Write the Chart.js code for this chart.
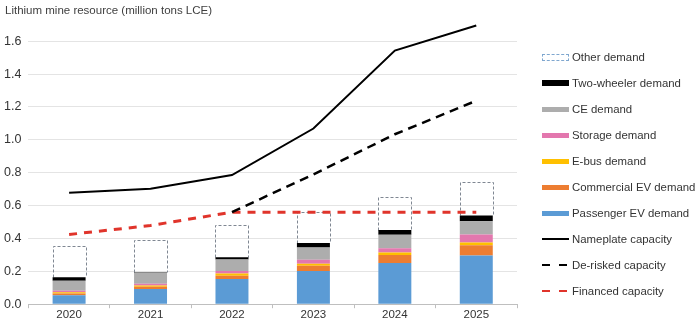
<!DOCTYPE html>
<html>
<head>
<meta charset="utf-8">
<script src="https://cdn.jsdelivr.net/npm/chart.js@4"></script>
<style>
  body { margin: 0; background: #fff; }
  #wrap { position: relative; width: 700px; height: 325px; font-family: "Liberation Sans", Arial, sans-serif; }
  #titulo { position: absolute; left: 5px; top: 4px; font-size: 11.5px; color: #404040; white-space: nowrap; }
  #leyenda { position: absolute; left: 542px; top: 0; font-size: 11.4px; color: #333; }
  .item { position: absolute; left: 0; height: 14px; white-space: nowrap; display: flex; align-items: center; }
  .sw { width: 27px; margin-right: 3px; box-sizing: border-box; }
</style>
</head>
<body>
<div id="wrap">
  <canvas id="grafico" width="700" height="325"></canvas>
  <div id="titulo">Lithium mine resource (million tons LCE)</div>
  <div id="leyenda"></div>
</div>
<script>
const anios = ["2020", "2021", "2022", "2023", "2024", "2025"];

const pasajeros = [0.055, 0.092, 0.153, 0.202, 0.250, 0.296];
const comercial = [0.010, 0.014, 0.020, 0.032, 0.050, 0.062];
const ebus = [0.007, 0.008, 0.014, 0.012, 0.014, 0.017];
const almacenamiento = [0.010, 0.010, 0.015, 0.024, 0.026, 0.049];
const ce = [0.060, 0.068, 0.070, 0.075, 0.082, 0.081];
const dosRuedas = [0.022, 0.003, 0.014, 0.027, 0.030, 0.035];
const otros = [0.193, 0.193, 0.194, 0.188, 0.200, 0.203];

const nominal = [0.678, 0.702, 0.786, 1.069, 1.543, 1.696];
const sinRiesgo = [null, null, 0.560, 0.790, 1.034, 1.238];
const financiada = [0.424, 0.479, 0.560, 0.560, 0.560, 0.560];

const yTicks = [0, 0.2, 0.4, 0.6, 0.8, 1.0, 1.2, 1.4, 1.6];

const barras = [
  { label: "Passenger EV demand", data: pasajeros, color: "#5B9BD5" },
  { label: "Commercial EV demand", data: comercial, color: "#ED7D31" },
  { label: "E-bus demand", data: ebus, color: "#FFC000" },
  { label: "Storage demand", data: almacenamiento, color: "#E377AE" },
  { label: "CE demand", data: ce, color: "#ADADAD" },
  { label: "Two-wheeler demand", data: dosRuedas, color: "#000000" },
  { label: "Other demand", data: otros, color: "rgba(0,0,0,0)" }
];

const lineas = [
  { label: "Nameplate capacity", data: nominal, color: "#000000", dash: [], width: 2 },
  { label: "De-risked capacity", data: sinRiesgo, color: "#000000", dash: [9, 6], width: 2.5 },
  { label: "Financed capacity", data: financiada, color: "#E0342B", dash: [8, 7], width: 3 }
];

const fuente = "'Liberation Sans', Arial";

const datasets = [];
barras.forEach(b => {
  datasets.push({
    type: "bar",
    label: b.label,
    data: b.data,
    backgroundColor: b.color,
    stack: "demanda",
    order: 2,
    categoryPercentage: 1,
    barPercentage: 0.405
  });
});
lineas.forEach((l, i) => {
  datasets.push({
    type: "line",
    label: l.label,
    data: l.data,
    borderColor: l.color,
    borderDash: l.dash,
    borderWidth: l.width,
    pointRadius: 0,
    tension: 0,
    fill: false,
    stack: "linea" + i,
    order: 1
  });
});

// contorno punteado para "Other demand"
const idxOtros = barras.length - 1;
const contornoOtros = {
  id: "contornoOtros",
  afterDatasetDraw(chart, args) {
    if (args.index !== idxOtros) return;
    const ctx = chart.ctx;
    ctx.save();
    ctx.strokeStyle = "#7F8792";
    ctx.lineWidth = 1;
    ctx.setLineDash([3, 2]);
    args.meta.data.forEach(bar => {
      const x = Math.round(bar.x - bar.width / 2) + 0.5;
      const w = Math.round(bar.width);
      const top = Math.round(bar.y) + 0.5;
      const bottom = Math.round(bar.base) + 0.5;
      ctx.beginPath();
      ctx.moveTo(x, bottom);
      ctx.lineTo(x, top);
      ctx.lineTo(x + w, top);
      ctx.lineTo(x + w, bottom);
      ctx.stroke();
    });
    ctx.restore();
  }
};

new Chart(document.getElementById("grafico"), {
  data: { labels: anios, datasets },
  plugins: [contornoOtros],
  options: {
    responsive: false,
    animation: false,
    layout: { padding: { left: -3, right: 183, top: 21.5, bottom: 3 } },
    plugins: {
      legend: { display: false },
      tooltip: { enabled: false },
      title: { display: false }
    },
    scales: {
      x: {
        stacked: true,
        grid: { display: true, drawOnChartArea: false, tickLength: 4, color: "#BFBFBF" },
        border: { color: "#BFBFBF" },
        ticks: { color: "#333", font: { family: fuente, size: 11.5 }, padding: 0 }
      },
      y: {
        stacked: true,
        min: 0,
        max: 1.72,
        afterBuildTicks: axis => { axis.ticks = yTicks.map(v => ({ value: v })); },
        grid: { color: "#E4E4E4", drawTicks: false },
        border: { display: false },
        ticks: {
          color: "#333",
          font: { family: fuente, size: 12.5 },
          padding: 7,
          callback: v => Number(v).toFixed(1)
        }
      }
    }
  }
});

// leyenda en HTML
const itemsLeyenda = [
  { label: "Other demand", tipo: "otros" },
  { label: "Two-wheeler demand", tipo: "barra", color: "#000000", alto: 6 },
  { label: "CE demand", tipo: "barra", color: "#ADADAD" },
  { label: "Storage demand", tipo: "barra", color: "#E377AE" },
  { label: "E-bus demand", tipo: "barra", color: "#FFC000" },
  { label: "Commercial EV demand", tipo: "barra", color: "#ED7D31" },
  { label: "Passenger EV demand", tipo: "barra", color: "#5B9BD5" },
  { label: "Nameplate capacity", tipo: "linea", color: "#000000" },
  { label: "De-risked capacity", tipo: "guion", color: "#000000" },
  { label: "Financed capacity", tipo: "guion", color: "#E0342B" }
];
const leyenda = document.getElementById("leyenda");
itemsLeyenda.forEach((it, i) => {
  const div = document.createElement("div");
  div.className = "item";
  div.style.top = (50 + i * 26) + "px";
  const sw = document.createElement("span");
  sw.className = "sw";
  if (it.tipo === "otros") {
    sw.style.height = "7px";
    sw.style.border = "1px dashed #7FA7CF";
  } else if (it.tipo === "barra") {
    sw.style.height = (it.alto || 5) + "px";
    sw.style.background = it.color;
  } else if (it.tipo === "linea") {
    sw.style.height = "2px";
    sw.style.background = it.color;
  } else {
    sw.style.height = "2px";
    sw.style.background = `linear-gradient(to right, ${it.color} 0 8px, transparent 8px 17px, ${it.color} 17px 25px, transparent 25px)`;
  }
  div.appendChild(sw);
  const txt = document.createElement("span");
  txt.textContent = it.label;
  div.appendChild(txt);
  leyenda.appendChild(div);
});
</script>
</body>
</html>
